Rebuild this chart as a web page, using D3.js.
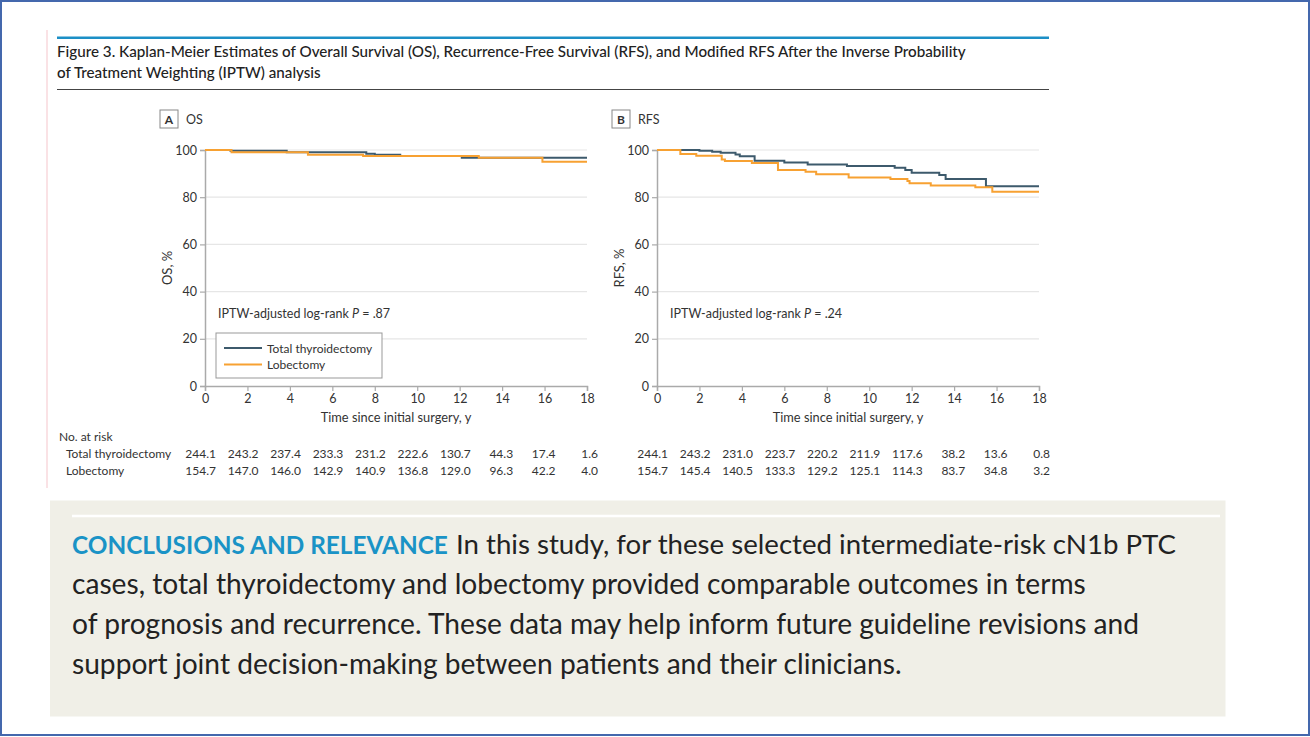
<!DOCTYPE html>
<html>
<head>
<meta charset="utf-8">
<script src="https://cdn.jsdelivr.net/npm/d3@7"></script>
<style>
  body { margin: 0; background: #fff; }
  svg text { font-family: Lato, "Open Sans", sans-serif; fill: #333; }
</style>
</head>
<body>
<div id="container"></div>
<script>
/* DATA */
const years = [0, 2, 4, 6, 8, 10, 12, 14, 16, 18]
const yTicks = [0, 20, 40, 60, 80, 100]
const groups = ["Total thyroidectomy", "Lobectomy"]
const groupColors = ["#3d5a6c", "#f7a132"]

// Kaplan-Meier steps, [year, %]
const osThyroid = [[0,100],[1.2,99.7],[3.85,99.0],[7.6,98.4],[8.0,98.0],[9.2,97.5],[12.1,96.7],[18,96.7]]
const osLobe = [[0,100],[1.25,99.0],[4.85,98.0],[7.45,97.5],[12.9,96.7],[15.9,95.0],[18,95.0]]
const rfsThyroid = [[0,100],[2.0,99.7],[2.6,99.3],[3.0,98.8],[3.7,98.1],[3.9,97.4],[4.6,95.4],[6.0,94.7],[7.1,93.9],[8.95,93.2],[11.2,92.5],[11.7,91.5],[12.0,90.4],[13.3,89.4],[13.6,87.7],[15.5,84.6],[18,84.6]]
const rfsLobe = [[0,100],[1.1,98.3],[1.85,97.6],[3.05,96.0],[3.2,95.3],[4.47,94.5],[5.7,91.5],[7.0,90.8],[7.5,89.7],[9.03,88.4],[11.0,87.7],[11.8,86.9],[11.9,85.9],[12.9,85.0],[15.0,84.2],[15.8,82.3],[18,82.3]]

// numbers at risk
const osRiskThyroid = [244.1, 243.2, 237.4, 233.3, 231.2, 222.6, 130.7, 44.3, 17.4, 1.6]
const osRiskLobe = [154.7, 147.0, 146.0, 142.9, 140.9, 136.8, 129.0, 96.3, 42.2, 4.0]
const rfsRiskThyroid = [244.1, 243.2, 231.0, 223.7, 220.2, 211.9, 117.6, 38.2, 13.6, 0.8]
const rfsRiskLobe = [154.7, 145.4, 140.5, 133.3, 129.2, 125.1, 114.3, 83.7, 34.8, 3.2]

const titleLines = [
  "Figure 3. Kaplan-Meier Estimates of Overall Survival (OS), Recurrence-Free Survival (RFS), and Modified RFS After the Inverse Probability",
  "of Treatment Weighting (IPTW) analysis"
]
const conclusionHead = "CONCLUSIONS AND RELEVANCE"
const conclusionLines = [
  "In this study, for these selected intermediate-risk cN1b PTC",
  "cases, total thyroidectomy and lobectomy provided comparable outcomes in terms",
  "of prognosis and recurrence. These data may help inform future guideline revisions and",
  "support joint decision-making between patients and their clinicians."
]

const width = 1310, height = 737

const svg = d3.select("#container")
  .append("svg")
  .attr("width", width)
  .attr("height", height)

// outer frame
svg.append("rect")
  .attr("x", 1).attr("y", 1)
  .attr("width", width - 2).attr("height", height - 3)
  .attr("fill", "none")
  .attr("stroke", "#4468ad")
  .attr("stroke-width", 2)

// pink margin line
svg.append("line")
  .attr("x1", 47).attr("x2", 47).attr("y1", 30).attr("y2", 488)
  .attr("stroke", "#f9d9dc").attr("stroke-width", 1.5)

// title rules
svg.append("rect")
  .attr("x", 57).attr("y", 36.5).attr("width", 992).attr("height", 2.5)
  .attr("fill", "#1c8fc6")
svg.append("line")
  .attr("x1", 57).attr("x2", 1049).attr("y1", 89.5).attr("y2", 89.5)
  .attr("stroke", "#444").attr("stroke-width", 1)

// fit text to a measured width
function fitFont(sel, target, base) {
  sel.style("font-size", base + "px")
  const len = sel.node().getComputedTextLength()
  sel.style("font-size", (base * target / len) + "px")
  return base * target / len
}

const t1 = svg.append("text")
  .attr("x", 57).attr("y", 57)
  .style("font-weight", 500)
  .style("fill", "#222")
  .text(titleLines[0])
const titleSize = fitFont(t1, 909, 14)
svg.append("text")
  .attr("x", 57).attr("y", 78)
  .style("font-weight", 500)
  .style("fill", "#222")
  .style("font-size", titleSize + "px")
  .text(titleLines[1])

/* PANELS */
const yScale = d3.scaleLinear().domain([0, 100]).range([386, 150])

function drawPanel(x0, letter, name, yLabel, pText, pVal, thyroid, lobe, riskT, riskL, showLegend, showRowLabels) {
  const xScale = d3.scaleLinear().domain([0, 18]).range([x0, x0 + 382])
  const g = svg.append("g")

  // panel label
  g.append("rect")
    .attr("x", x0 - 45).attr("y", 110)
    .attr("width", 18).attr("height", 18)
    .attr("fill", "none").attr("stroke", "#888").attr("stroke-width", 1)
  g.append("text")
    .attr("x", x0 - 36).attr("y", 123.5)
    .attr("text-anchor", "middle")
    .style("font-size", "12px").style("font-weight", 700)
    .text(letter)
  g.append("text")
    .attr("x", x0 - 19).attr("y", 124)
    .style("font-size", "12.5px")
    .text(name)

  // gridlines
  g.selectAll(".grid")
    .data(yTicks.filter(d => d > 0))
    .join("line")
    .attr("x1", xScale(0)).attr("x2", xScale(18))
    .attr("y1", d => yScale(d)).attr("y2", d => yScale(d))
    .attr("stroke", "#e6e6e6").attr("stroke-width", 1.2)

  // axes
  const yAxis = d3.axisLeft(yScale).tickValues(yTicks).tickSize(5).tickPadding(3)
  const ya = g.append("g").attr("transform", `translate(${x0},0)`).call(yAxis)
  const xAxis = d3.axisBottom(xScale).tickValues(years).tickSize(5).tickPadding(3)
  const xa = g.append("g").attr("transform", `translate(0,${yScale(0)})`).call(xAxis)
  ;[ya, xa].forEach(a => {
    a.select(".domain").attr("stroke", "#aaa").attr("stroke-width", 1.5)
    a.selectAll(".tick line").attr("stroke", "#aaa").attr("stroke-width", 1.2)
    a.selectAll(".tick text").style("font-size", "12.5px").style("font-family", "Lato, sans-serif").attr("fill", "#333")
  })

  // axis titles
  g.append("text")
    .attr("transform", `translate(${x0 - 33},268) rotate(-90)`)
    .attr("text-anchor", "middle")
    .style("font-size", "13px")
    .text(yLabel)
  g.append("text")
    .attr("x", xScale(9)).attr("y", 422)
    .attr("text-anchor", "middle")
    .style("font-size", "12.8px")
    .text("Time since initial surgery, y")

  // p-value
  const pt = g.append("text")
    .attr("x", x0 + 13).attr("y", 318)
    .style("font-size", "12.5px")
  pt.append("tspan").text(pText)
  pt.append("tspan").style("font-style", "italic").text("P")
  pt.append("tspan").text(" = " + pVal)

  // curves
  const line = d3.line()
    .x(d => xScale(d[0]))
    .y(d => yScale(d[1]))
    .curve(d3.curveStepAfter)
  g.selectAll(".km")
    .data([thyroid, lobe])
    .join("path")
    .attr("d", line)
    .attr("fill", "none")
    .attr("stroke", (_, i) => groupColors[i])
    .attr("stroke-width", 2)

  // legend
  if (showLegend) {
    g.append("rect")
      .attr("x", x0 + 11).attr("y", 333)
      .attr("width", 166).attr("height", 45)
      .attr("fill", "#fff").attr("stroke", "#999").attr("stroke-width", 1)
    g.selectAll(".legLine")
      .data(groups)
      .join("line")
      .attr("x1", x0 + 19).attr("x2", x0 + 57)
      .attr("y1", (_, i) => 348 + i * 16.5).attr("y2", (_, i) => 348 + i * 16.5)
      .attr("stroke", (_, i) => groupColors[i]).attr("stroke-width", 2)
    g.selectAll(".legText")
      .data(groups)
      .join("text")
      .attr("x", x0 + 62)
      .attr("y", (_, i) => 352.5 + i * 16.5)
      .style("font-size", "12px")
      .text(d => d)
  }

  // numbers at risk
  if (showRowLabels) {
    g.append("text").attr("x", 59).attr("y", 441).style("font-size", "12px").text("No. at risk")
    g.selectAll(".rowLab")
      .data(groups)
      .join("text")
      .attr("x", 66)
      .attr("y", (_, i) => 458 + i * 17)
      .style("font-size", "12px")
      .text(d => d)
  }
  ;[riskT, riskL].forEach((row, r) => {
    g.selectAll(".risk" + r)
      .data(row)
      .join("text")
      .attr("x", (_, i) => xScale(years[i]) + 11)
      .attr("y", 458 + r * 17)
      .attr("text-anchor", "end")
      .style("font-size", "12px")
      .text(d => d.toFixed(1))
  })
}

drawPanel(205, "A", "OS", "OS, %", "IPTW-adjusted log-rank ", ".87", osThyroid, osLobe, osRiskThyroid, osRiskLobe, true, true)
drawPanel(657, "B", "RFS", "RFS, %", "IPTW-adjusted log-rank ", ".24", rfsThyroid, rfsLobe, rfsRiskThyroid, rfsRiskLobe, false, false)

/* CONCLUSIONS BOX */
svg.append("rect")
  .attr("x", 50).attr("y", 500.5)
  .attr("width", 1175.5).attr("height", 216)
  .attr("fill", "#f0efe7")
svg.append("line")
  .attr("x1", 72).attr("x2", 1220).attr("y1", 516).attr("y2", 516)
  .attr("stroke", "#fff").attr("stroke-width", 2.5)

// regular lines 2-4, sized from the last line's width
const concl = svg.selectAll(".concl")
  .data(conclusionLines.slice(1))
  .join("text")
  .attr("class", "concl")
  .attr("x", 72)
  .attr("y", (_, i) => 594 + i * 40)
  .style("fill", "#222")
  .text(d => d)
const cSize = fitFont(d3.select(concl.nodes()[2]), 830, 24)
concl.style("font-size", cSize + "px")

const head = svg.append("text")
  .attr("x", 72).attr("y", 554)
  .style("font-weight", 700)
  .style("fill", "#1a93c6")
  .text(conclusionHead)
fitFont(head, 376, 24)
const first = svg.append("text")
  .attr("x", 456).attr("y", 554)
  .style("fill", "#222")
  .text(conclusionLines[0])
fitFont(first, 720, cSize)
</script>
</body>
</html>
